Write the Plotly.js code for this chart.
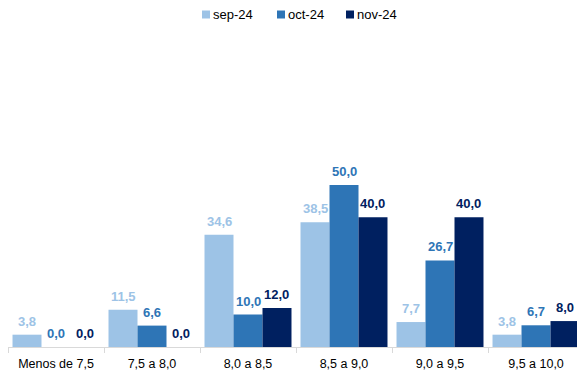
<!DOCTYPE html>
<html>
<head>
<meta charset="utf-8">
<script src="https://cdn.plot.ly/plotly-3.0.1.min.js"></script>
<style>
  html, body { margin: 0; padding: 0; overflow: hidden; background: #fff; }
  #chart { width: 585px; height: 372px; }
</style>
</head>
<body>
<div id="chart"></div>
<script>
// Rango de calificaciones
const categories = ["Menos de 7,5", "7,5 a 8,0", "8,0 a 8,5", "8,5 a 9,0", "9,0 a 9,5", "9,5 a 10,0"];
// Porcentaje por mes
const sep24 = [3.8, 11.5, 34.6, 38.5, 7.7, 3.8];
const oct24 = [0.0, 6.6, 10.0, 50.0, 26.7, 6.7];
const nov24 = [0.0, 0.0, 12.0, 40.0, 40.0, 8.0];
const seriesNames = ["sep-24", "oct-24", "nov-24"];
const seriesColors = ["#9dc3e6", "#2e75b6", "#002060"];
const series = [sep24, oct24, nov24];

const W = 585, H = 372;
const M = { l: 8, r: 1, t: 40, b: 25 };
const BARGAP = 0.094;
const FONT = "Liberation Sans, Arial, sans-serif";

const plotW = W - M.l - M.r;
const plotH = H - M.t - M.b;
const catW = plotW / categories.length;
const barW = catW * (1 - BARGAP) / series.length;

const traces = series.map((vals, i) => ({
  type: "bar",
  name: seriesNames[i],
  x: categories,
  y: vals,
  marker: { color: seriesColors[i], line: { width: 0 } },
  hoverinfo: "skip",
  showlegend: false
}));

// Value labels above each bar, same colour as its series
const annotations = [];
series.forEach((vals, i) => {
  vals.forEach((v, j) => {
    annotations.push({
      x: categories[j], y: v, xref: "x", yref: "y",
      text: v.toFixed(1).replace(".", ","),
      showarrow: false,
      xanchor: "center", yanchor: "bottom",
      xshift: (i - 1) * barW, yshift: 4,
      font: { family: FONT, size: 13, color: seriesColors[i], weight: "bold" }
    });
  });
});

// Legend row at the top: small square + name
const legendX = [202, 277, 346];
const legendY = 14.5;
const px2x = px => (px - M.l) / plotW;
const py2y = py => (H - M.b - py) / plotH;
const shapes = [];
seriesNames.forEach((name, i) => {
  shapes.push({
    type: "rect", xref: "paper", yref: "paper",
    x0: px2x(legendX[i]), x1: px2x(legendX[i] + 8),
    y0: py2y(legendY + 4), y1: py2y(legendY - 4),
    fillcolor: seriesColors[i], line: { width: 0 }
  });
  annotations.push({
    xref: "paper", yref: "paper",
    x: px2x(legendX[i] + 9), y: py2y(legendY),
    xanchor: "left", yanchor: "middle",
    text: name, showarrow: false,
    font: { family: FONT, size: 13, color: "#000" }
  });
});

const layout = {
  width: W,
  height: H,
  margin: M,
  barmode: "group",
  bargap: BARGAP,
  bargroupgap: 0,
  paper_bgcolor: "#ffffff",
  plot_bgcolor: "#ffffff",
  showlegend: false,
  annotations: annotations,
  shapes: shapes,
  xaxis: {
    type: "category",
    showline: true,
    linecolor: "#d9d9d9",
    linewidth: 1,
    ticks: "outside",
    tickson: "boundaries",
    ticklen: 5,
    tickcolor: "#d9d9d9",
    ticklabelstandoff: 5,
    showgrid: false,
    tickfont: { family: FONT, size: 12.5, color: "#000" },
    fixedrange: true
  },
  yaxis: {
    range: [0, 94.7],
    visible: false,
    showgrid: false,
    zeroline: false,
    fixedrange: true
  }
};

Plotly.newPlot("chart", traces, layout, { displayModeBar: false, staticPlot: true });
</script>
</body>
</html>
